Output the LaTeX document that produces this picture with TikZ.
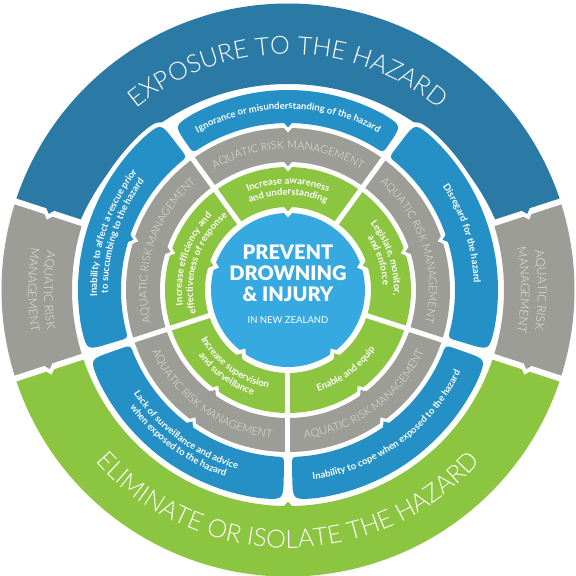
\documentclass[tikz,border=0pt]{standalone}
\usepackage{fontspec}
\setmainfont{Lato}
\IfFontExistsTF{Lato Light}{\newfontfamily\lightf{Lato Light}}{\newfontfamily\lightf{Lato}}
\IfFontExistsTF{Lato Black}{\newfontfamily\blackf{Lato Black}}{\newcommand\blackf{\bfseries}}
\usetikzlibrary{decorations.text}
\definecolor{dkblue}{HTML}{2A7AA5}
\definecolor{mdblue}{HTML}{2590C6}
\definecolor{ltblue}{HTML}{36A9E1}
\definecolor{grn}{HTML}{8CC540}
\definecolor{gry}{HTML}{9D9D98}
\definecolor{grytxt}{HTML}{E4E4E1}
\newcommand\bfgreen{\fontsize{9.5}{11}\selectfont\bfseries}
\newcommand\bfblue{\fontsize{9.5}{11}\selectfont\bfseries}
\newcommand\lteleven{\lightf\fontsize{11}{13}\selectfont}
\newcommand\lttwelve{\lightf\fontsize{12}{14}\selectfont}
\newcommand\ltbig{\lightf\fontsize{25}{28}\selectfont}
% annular sector: color, a1, a2, rin, rout
\newcommand\annsec[5]{\fill[#1] (#2:#5pt) arc[start angle=#2, end angle=#3, radius=#5pt] -- (#3:#4pt) arc[start angle=#3, end angle=#2, radius=#4pt] -- cycle;}
% rounded annular sector: options, a1, a2, rin, rout, cin, cout
\newcommand\rsec[7]{%
 \pgfmathsetmacro\rsA{#2+#7/#5*57.2958}%
 \pgfmathsetmacro\rsB{#3-#7/#5*57.2958}%
 \pgfmathsetmacro\rsC{#3-#6/#4*57.2958}%
 \pgfmathsetmacro\rsD{#2+#6/#4*57.2958}%
 \pgfmathsetmacro\rsOm{#5-#7}%
 \pgfmathsetmacro\rsIp{#4+#6}%
 \fill[#1] (\rsA:#5pt) arc[start angle=\rsA, end angle=\rsB, radius=#5pt]
   .. controls (#3:#5pt) .. (#3:\rsOm pt) -- (#3:\rsIp pt)
   .. controls (#3:#4pt) .. (\rsC:#4pt)
   arc[start angle=\rsC, end angle=\rsD, radius=#4pt]
   .. controls (#2:#4pt) .. (#2:\rsIp pt) -- (#2:\rsOm pt)
   .. controls (#2:#5pt) .. (\rsA:#5pt) -- cycle;}
% blue segment with white halo: a1, a2, rout
\newcommand\bseg[3]{%
 \rsec{draw=white, fill=white, line width=9pt}{#1}{#2}{167}{#3}{9}{22}%
 \rsec{mdblue}{#1}{#2}{167}{#3}{9}{22}}
% chevron triangle pointing inward: angle, edge radius, color
\newcommand\tri[3]{\fill[#3, rotate=#1] (#2+0.8,-4.5) -- (#2+0.8,4.5) -- (#2-4.5,0) -- cycle;}
% side chevron on outer ring cut: angle, side (1 or -1), bump colour
\newcommand\sidechev[3]{\begin{scope}[rotate=#1, yscale=#2]
 \fill[white] (246.5,2.5) -- (255.5,2.5) -- (251,7.5) -- cycle;
 \fill[#3] (246.5,-3.5) -- (255.5,-3.5) -- (251,1.5) -- cycle;
\end{scope}}
% curved text, clockwise (tops outward): colour, font, mid angle, radius, half span, text
\newcommand\cwtext[6]{%
 \pgfmathsetmacro\tA{#3+#5}\pgfmathsetmacro\tB{#3-#5}%
 \path[decorate, decoration={text along path, text color=#1, text align=center, text={|#2|#6}}]
   (\tA:#4pt) arc[start angle=\tA, end angle=\tB, radius=#4pt];}
% curved text, counter-clockwise (tops inward)
\newcommand\ccwtext[6]{%
 \pgfmathsetmacro\tA{#3-#5}\pgfmathsetmacro\tB{#3+#5}%
 \path[decorate, decoration={text along path, text color=#1, text align=center, text={|#2|#6}}]
   (\tA:#4pt) arc[start angle=\tA, end angle=\tB, radius=#4pt];}
\tikzset{ctxt/.style={anchor=base, inner sep=0pt, text=white}}
\begin{document}
\begin{tikzpicture}[x=1pt,y=1pt]
\useasboundingbox (-288,-286) rectangle (288,290);
\fill[white] (-288,-286) rectangle (288,290);
% outer ring
\begin{scope}
 \clip (0,0) -- (18:320pt) arc[start angle=18, end angle=162, radius=320pt] -- cycle;
 \fill[dkblue, even odd rule] (0,0) circle[radius=286.5pt] (0,-20) circle[radius=226pt];
\end{scope}
\annsec{gry}{162}{198}{216}{286.5}
\annsec{grn}{198}{342}{216}{286.5}
\annsec{gry}{-18}{18}{216}{286.5}
\foreach \a in {18,162,198,342} \draw[white, line width=6pt] (\a:205pt) -- (\a:292pt);
\sidechev{162}{1}{dkblue}
\sidechev{18}{-1}{dkblue}
\sidechev{198}{1}{gry}
\sidechev{342}{-1}{gry}
% blue ring
\bseg{55.3}{124.7}{200}
\bseg{-16.7}{52.7}{210}
\bseg{271.3}{340.7}{210}
\bseg{199.3}{268.7}{210}
\bseg{127.3}{196.7}{210}
% gray and green rings
\fill[gry, even odd rule] (0,0) circle[radius=162pt] (0,0) circle[radius=128pt];
\fill[grn, even odd rule] (0,0) circle[radius=123pt] (0,0) circle[radius=83pt];
\foreach \a in {54,126,198,270,342} \draw[white, line width=5pt] (\a:79pt) -- (\a:165pt);
\fill[ltblue] (0,0) circle[radius=77pt];
% chevrons
\foreach \a in {90,18,306,234,162} {
 \tri{\a}{162}{white} \tri{\a}{167}{mdblue}
 \tri{\a}{123}{white} \tri{\a}{128}{gry}
 \tri{\a}{77}{white} \tri{\a}{83}{grn}
}
\tri{270}{216}{grn}
% outer ring texts
\cwtext{white}{\ltbig}{90}{236}{60}{EXPOSURE TO THE HAZARD}
\ccwtext{white}{\ltbig}{270}{258}{65}{ELIMINATE OR ISOLATE THE HAZARD}
\ccwtext{grytxt}{\lttwelve}{180}{244}{30}{AQUATIC RISK}
\ccwtext{grytxt}{\lttwelve}{180}{260}{30}{MANAGEMENT}
\cwtext{grytxt}{\lttwelve}{0}{250}{30}{AQUATIC RISK}
\cwtext{grytxt}{\lttwelve}{0}{233}{30}{MANAGEMENT}
% blue ring texts
\cwtext{white}{\bfblue}{90}{181}{50}{Ignorance or misunderstanding of the hazard}
\cwtext{white}{\bfblue}{18}{186}{45}{Disregard for the hazard}
\ccwtext{white}{\bfblue}{306}{191}{45}{Inability to cope when exposed to the hazard}
\ccwtext{white}{\bfblue}{234}{186}{45}{Lack of surveillance and advice}
\ccwtext{white}{\bfblue}{234}{197}{45}{when exposed to the hazard}
\cwtext{white}{\bfblue}{162}{191}{45}{Inability to affect a rescue prior}
\cwtext{white}{\bfblue}{162}{180}{45}{to succumbing to the hazard}
% gray ring texts
\cwtext{grytxt}{\lteleven}{90}{141}{45}{AQUATIC RISK MANAGEMENT}
\cwtext{grytxt}{\lteleven}{18}{141}{45}{AQUATIC RISK MANAGEMENT}
\ccwtext{grytxt}{\lteleven}{306}{149}{45}{AQUATIC RISK MANAGEMENT}
\ccwtext{grytxt}{\lteleven}{234}{149}{45}{AQUATIC RISK MANAGEMENT}
\cwtext{grytxt}{\lteleven}{162}{141}{45}{AQUATIC RISK MANAGEMENT}
% green ring texts
\cwtext{white}{\bfgreen}{90}{106}{45}{Increase awareness}
\cwtext{white}{\bfgreen}{90}{95}{45}{and understanding}
\cwtext{white}{\bfgreen}{18}{106}{45}{Legislate, monitor,}
\cwtext{white}{\bfgreen}{18}{95}{45}{and enforce}
\ccwtext{white}{\bfgreen}{306}{105.5}{45}{Enable and equip}
\ccwtext{white}{\bfgreen}{234}{100}{45}{Increase supervision}
\ccwtext{white}{\bfgreen}{234}{111}{45}{and surveillance}
\cwtext{white}{\bfgreen}{162}{106}{45}{Increase efficiency and}
\cwtext{white}{\bfgreen}{162}{95}{45}{effectiveness of response}
% centre
\node[ctxt, font=\blackf\fontsize{20}{20}\selectfont] (prevent) at (0,31) {PREVENT};
\node[ctxt, font=\blackf\fontsize{20}{20}\selectfont] (drowning) at (0,10) {DROWNING};
\node[ctxt, font=\blackf\fontsize{20}{20}\selectfont] (injury) at (0,-11) {\& INJURY};
\node[ctxt, font=\fontsize{9.5}{10}\selectfont] (nz) at (0,-33) {IN NEW ZEALAND};
\end{tikzpicture}
\end{document}
